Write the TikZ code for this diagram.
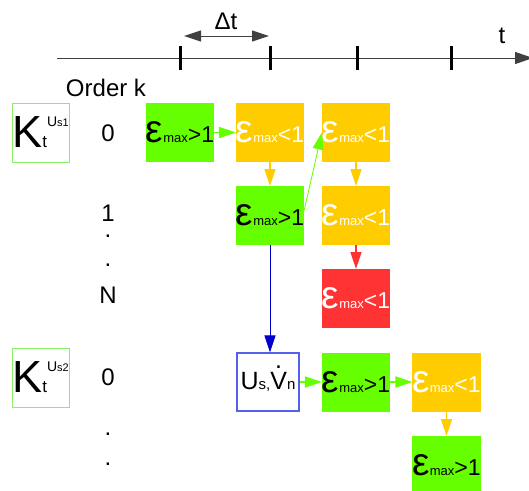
\documentclass[tikz,border=0pt]{standalone}
\usepackage{fontspec}
\setmainfont{Liberation Sans}
\usetikzlibrary{arrows.meta}

\definecolor{limegreen}{HTML}{66FF00}
\definecolor{amber}{HTML}{FFCC00}
\definecolor{alarm}{HTML}{FF3333}
\definecolor{paleframe}{HTML}{88EE66}
\definecolor{deepblue}{HTML}{0000CC}
\definecolor{boxblue}{HTML}{5560EE}

\newcommand{\fs}[1]{\fontsize{#1}{#1}\selectfont}
\newcommand{\epsmax}[1]{{\fs{39}ε}{\fs{13}max}{\fs{23}#1}}
\newcommand{\ktrans}[1]{{\fs{45}K}{\fs{17}t}\raisebox{21pt}{{\fs{14}U}{\fs{11}s#1}}}
\newcommand{\vdotted}{\ooalign{V\cr\hidewidth\raisebox{21pt}{.}\hidewidth\cr}}

\begin{document}
\begin{tikzpicture}[
  x=1pt, y=-1pt,
  label/.style={font=\fs{24}, text=black},
  cell/.style={minimum width=66pt, minimum height=59pt, inner sep=0pt, outer sep=0pt},
  good/.style={cell, fill=limegreen, text=black},
  warn/.style={cell, fill=amber, text=white},
  bad/.style={cell, fill=alarm, text=white},
  frame/.style={draw=paleframe, line width=0.9pt, fill=white, minimum width=57pt, minimum height=59pt, inner sep=0pt},
  source/.style={draw=boxblue, line width=1.2pt, fill=white, minimum width=62pt, minimum height=58pt, inner sep=0pt},
  link/.style={-{Triangle[length=17pt,width=11pt]}, line width=1.6pt},
  tick/.style={line width=3pt, draw=black},
]
\useasboundingbox (0,0) rectangle (529,490);

% Time axis
\coordinate (axisL) at (57,58);
\coordinate (axisR) at (533,58);
\draw[-{Triangle[length=18pt,width=12pt]}, line width=1pt, draw=black!75] (axisL) -- (axisR);
\foreach \x in {180,270,357,451} {
  \draw[tick] (\x,46) -- (\x,70);
}
\coordinate (dtL) at (184,36);
\coordinate (dtR) at (269,36);
\draw[{Triangle[length=17pt,width=11pt]}-{Triangle[length=17pt,width=11pt]}, line width=1pt, draw=black!75] (dtL) -- (dtR);
\node[label] (dt) at (226,21) {Δt};
\node[label] (tlab) at (502,36) {t};
\node[label] (order) at (106,88) {Order k};

% Order column
\node[frame] (k1) at (40.5,132.5) {\ktrans{1}};
\node[frame] (k2) at (40.5,377.5) {\ktrans{2}};
\node[label] (n0) at (108,133) {0};
\node[label] (n1) at (108,213) {1};
\node[label] (d1) at (108,236) {.};
\node[label] (d2) at (108,265) {.};
\node[label] (nN) at (108,295) {N};
\node[label] (m0) at (108,377) {0};
\node[label] (d3) at (108,434) {.};
\node[label] (d4) at (108,464) {.};

% First stage
\node[good] (g1) at (180,132.5) {\epsmax{>1}};
\node[warn] (o1) at (270,132.5) {\epsmax{<1}};
\node[warn] (o2) at (356,132.5) {\epsmax{<1}};
\node[good] (g2) at (270,215.5) {\epsmax{>1}};
\node[warn] (o3) at (356,215.5) {\epsmax{<1}};
\node[bad]  (r1) at (356,298.5) {\epsmax{<1}};

% Second stage
\node[source] (uv) at (268,382) {{\fs{25}U}{\fs{15}s,}{\fs{25}\vdotted}{\fs{15}n}};
\node[good] (g3) at (356,382) {\epsmax{>1}};
\node[warn] (o4) at (446.5,382) {\epsmax{<1}};
\node[good] (g4) at (446.5,465.5) {\epsmax{>1}};

% Connectors
\draw[link, draw=limegreen, fill=limegreen] (g1) -- (o1);
\draw[link, draw=amber, fill=amber] (o1) -- (g2);
\draw[-{Triangle[length=17pt,width=11pt]}, line width=0.8pt, draw=limegreen, fill=limegreen]
  ([yshift=5pt]g2.east) -- (o2.west);
\draw[link, draw=amber, fill=amber] (o2) -- (o3);
\draw[link, draw=alarm, fill=alarm] (o3) -- (r1);
\draw[-{Triangle[length=17pt,width=11pt]}, line width=0.9pt, draw=deepblue, fill=deepblue]
  (g2.south) -- (g2.south |- uv.north);
\draw[link, draw=limegreen, fill=limegreen] (uv) -- (g3);
\draw[link, draw=limegreen, fill=limegreen] (g3) -- (o4);
\draw[link, draw=amber, fill=amber] (o4) -- (g4);

\end{tikzpicture}
\end{document}
